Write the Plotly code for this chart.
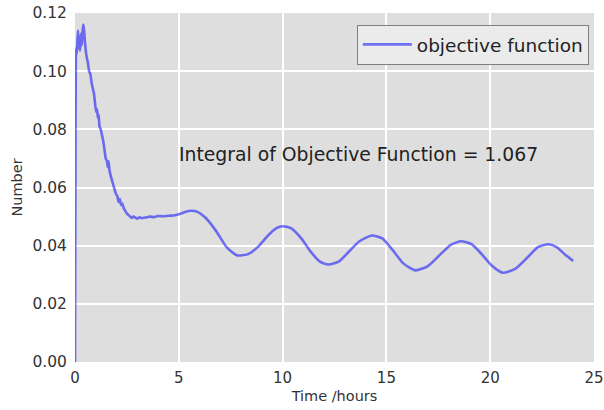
import plotly.graph_objects as go

# Objective function over time (hours)
time_hours = [
    0.00, 0.02, 0.04, 0.06, 0.09, 0.12, 0.15, 0.18, 0.21, 0.24, 0.27, 0.30,
    0.33, 0.36, 0.40, 0.44, 0.48, 0.52, 0.56, 0.62, 0.68, 0.74, 0.80, 0.86,
    0.92, 0.98, 1.02, 1.06, 1.10, 1.14, 1.18, 1.24, 1.30, 1.36, 1.42, 1.48,
    1.54, 1.58, 1.62, 1.66, 1.72, 1.80, 1.88, 1.96, 2.04, 2.10, 2.16, 2.22,
    2.28, 2.34, 2.42, 2.50, 2.58, 2.66, 2.74, 2.82, 2.90, 3.00, 3.10, 3.20,
    3.40, 3.60, 3.80, 4.00, 4.25, 4.50, 4.75, 5.00, 5.30, 5.60, 5.90, 6.30,
    6.80, 7.30, 7.80, 8.30, 8.80, 9.30, 9.70, 10.00, 10.40, 10.90, 11.40, 11.80,
    12.20, 12.70, 13.20, 13.70, 14.30, 14.80, 15.30, 15.80, 16.40, 17.00, 17.60, 18.10,
    18.60, 19.10, 19.60, 20.10, 20.60, 21.20, 21.80, 22.30, 22.80, 23.20, 23.60, 24.00,
]
objective = [
    0.0000, 0.0600, 0.1040, 0.1080, 0.1060, 0.1110, 0.1140, 0.1080, 0.1120, 0.1070, 0.1100, 0.1130,
    0.1090, 0.1135, 0.1160, 0.1140, 0.1100, 0.1070, 0.1050, 0.1030, 0.1000, 0.0990, 0.0960, 0.0940,
    0.0920, 0.0880, 0.0860, 0.0870, 0.0840, 0.0850, 0.0810, 0.0800, 0.0780, 0.0760, 0.0730, 0.0700,
    0.0690, 0.0670, 0.0690, 0.0660, 0.0640, 0.0620, 0.0600, 0.0580, 0.0570, 0.0550, 0.0560, 0.0540,
    0.0545, 0.0530, 0.0520, 0.0510, 0.0505, 0.0500, 0.0495, 0.0500, 0.0497, 0.0493, 0.0498, 0.0495,
    0.0497, 0.0500, 0.0498, 0.0502, 0.0501, 0.0503, 0.0504, 0.0508, 0.0516, 0.0520, 0.0516, 0.0495,
    0.0450, 0.0395, 0.0367, 0.0370, 0.0395, 0.0435, 0.0460, 0.0467, 0.0460, 0.0425, 0.0375, 0.0345,
    0.0335, 0.0345, 0.0380, 0.0415, 0.0435, 0.0425, 0.0385, 0.0340, 0.0315, 0.0330, 0.0370, 0.0403,
    0.0415, 0.0405, 0.0370, 0.0330, 0.0307, 0.0320, 0.0360, 0.0395, 0.0405, 0.0395, 0.0370, 0.0347,
]

integral_label = "Integral of Objective Function = 1.067"
x_ticks = [0, 5, 10, 15, 20, 25]
y_ticks = [0.00, 0.02, 0.04, 0.06, 0.08, 0.10, 0.12]

FONT = "DejaVu Sans"
TEXT = "#333333"
CLEAR = "rgba(0,0,0,0)"

fig = go.Figure()
fig.add_trace(go.Scatter(
    x=time_hours, y=objective, mode="lines", name="objective function",
    line=dict(color="rgba(0,0,255,0.52)", width=2.6, shape="spline", smoothing=0.6),
    cliponaxis=False,
))

fig.add_annotation(
    x=5.0, y=0.0715, xref="x", yref="y", text=integral_label, showarrow=False,
    xanchor="left", yanchor="middle", xshift=-2,
    font=dict(family=FONT, size=18.8, color="#222222"),
)

fig.update_layout(
    width=604, height=410,
    margin=dict(l=75, r=10, t=13, b=48, autoexpand=False),
    paper_bgcolor="white", plot_bgcolor="#DEDEDE",
    font=dict(family=FONT, size=13, color=TEXT),
    showlegend=True,
    legend=dict(
        x=0.99, y=0.966, xanchor="right", yanchor="top",
        bgcolor="#EBEBEB", bordercolor="#7F7F7F", borderwidth=1,
        font=dict(family=FONT, size=18.5, color="#222222"),
        tracegroupgap=0, itemwidth=49,
    ),
    xaxis=dict(
        range=[0, 25], tickvals=x_ticks, ticktext=[str(v) for v in x_ticks],
        showgrid=True, gridcolor="white", gridwidth=2, zeroline=False,
        ticks="outside", ticklen=2, tickcolor=CLEAR, showline=False,
        ticklabeloverflow="allow",
        tickfont=dict(size=15, color=TEXT),
        title=dict(text="Time /hours", font=dict(size=14.5, color=TEXT), standoff=4),
    ),
    yaxis=dict(
        range=[0, 0.12], tickvals=y_ticks, ticktext=[f"{v:.2f}" for v in y_ticks],
        showgrid=True, gridcolor="white", gridwidth=2, zeroline=False,
        ticks="outside", ticklen=4, tickcolor=CLEAR, showline=False,
        tickfont=dict(size=15.5, color=TEXT),
        title=dict(text="Number", font=dict(size=14.5, color=TEXT), standoff=6),
    ),
)

fig.write_html("out.html")
